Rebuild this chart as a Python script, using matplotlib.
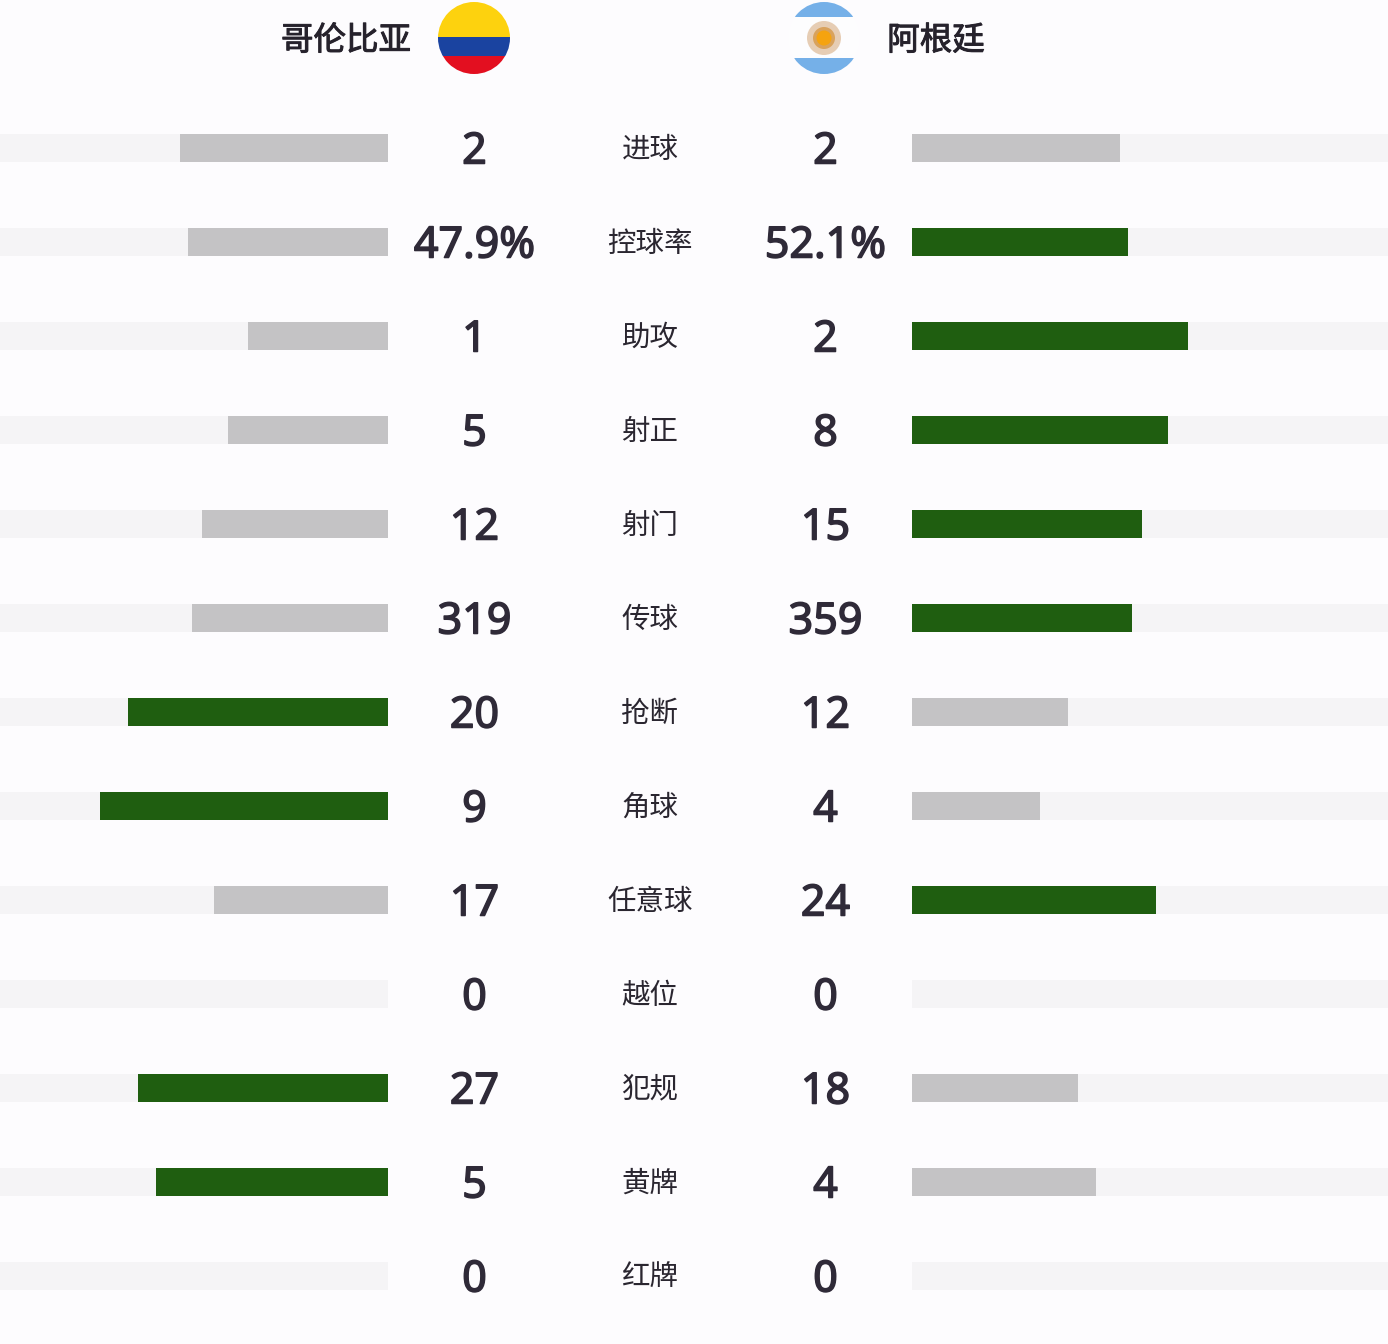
import matplotlib
matplotlib.use("Agg")
import numpy as np
import matplotlib.pyplot as plt
import matplotlib.patheffects as pe
from matplotlib.patches import Circle, Rectangle

plt.rcParams['font.family'] = ['Noto Sans CJK SC', 'DejaVu Sans']

team_left = "哥伦比亚"
team_right = "阿根廷"

stats = ["进球", "控球率", "助攻", "射正", "射门", "传球", "抢断", "角球", "任意球", "越位", "犯规", "黄牌", "红牌"]
left_labels = ["2", "47.9%", "1", "5", "12", "319", "20", "9", "17", "0", "27", "5", "0"]
right_labels = ["2", "52.1%", "2", "8", "15", "359", "12", "4", "24", "0", "18", "4", "0"]

# bar length as share of the track
left_share = [52, 50, 35, 40, 46.5, 49, 65, 72, 43.5, 0, 62.5, 58, 0]
right_share = [52, 54, 69, 64, 57.5, 55, 39, 32, 61, 0, 41.5, 46, 0]
left_green = [0, 0, 0, 0, 0, 0, 1, 1, 0, 0, 1, 1, 0]
right_green = [0, 1, 1, 1, 1, 1, 0, 0, 1, 0, 0, 0, 0]

BG = "#fdfcfe"
TRACK = "#f5f4f6"
GRAY = "#c4c3c5"
GREEN = "#1f5e10"
TEXT = "#2f2a38"

fig = plt.figure(figsize=(13.88, 13.44), dpi=100, facecolor=BG)
ax = fig.add_axes([0, 0, 1, 1])
ax.set_xlim(0, 1388)
ax.set_ylim(1344, 0)
ax.axis("off")

y = 148 + 94 * np.arange(len(stats))
scale = 4.0  # px per percent

# tracks
ax.barh(y, -388, left=388, height=28, color=TRACK)
ax.barh(y, 476, left=912, height=28, color=TRACK)

# bars
ax.barh(y, -scale * np.array(left_share), left=388, height=28,
        color=[GREEN if g else GRAY for g in left_green])
ax.barh(y, scale * np.array(right_share), left=912, height=28,
        color=[GREEN if g else GRAY for g in right_green])

# the Noto Sans here has no bold cut, so thicken the digits with a stroke
thick = [pe.withStroke(linewidth=1.1, foreground=TEXT)]
for i in range(len(stats)):
    ax.text(474.5, y[i] - 1, left_labels[i], ha="center", va="center_baseline", fontsize=31,
            color=TEXT, family=["Noto Sans", "DejaVu Sans"], path_effects=thick)
    ax.text(825.5, y[i] - 1, right_labels[i], ha="center", va="center_baseline", fontsize=31,
            color=TEXT, family=["Noto Sans", "DejaVu Sans"], path_effects=thick)
    ax.text(650, y[i] + 1.5, stats[i], ha="center", va="center", fontsize=20.5,
            fontweight="light", color="#2a2630")

# team names
name_fx = [pe.withStroke(linewidth=0.7, foreground="#26222c")]
ax.text(346, 41, team_left, ha="center", va="center", fontsize=23.4, color="#26222c", path_effects=name_fx)
ax.text(936, 41, team_right, ha="center", va="center", fontsize=23.4, color="#26222c", path_effects=name_fx)


def flag(cx, cy, r, stripes):
    clip = Circle((cx, cy), r, transform=ax.transData, facecolor="none", edgecolor="none")
    ax.add_patch(clip)
    for top, bottom, col in stripes:
        rect = Rectangle((cx - r, top), 2 * r, bottom - top, facecolor=col, edgecolor="none")
        ax.add_patch(rect)
        rect.set_clip_path(clip)


flag(474, 38, 36, [(2, 37, "#fdd20e"), (37, 56, "#1a43a0"), (56, 74, "#e30f20")])
flag(824, 38, 36, [(2, 17, "#75b0e8"), (17, 58, "#fdfdfe"), (58, 74, "#75b0e8")])
ax.add_patch(Circle((824, 38), 17, facecolor="#e6cdb4", edgecolor="none"))
ax.add_patch(Circle((824, 38), 11, facecolor="#d9a25c", edgecolor="none"))
ax.add_patch(Circle((824, 38), 7.5, facecolor="#f5a30f", edgecolor="none"))

fig.savefig("out.png", dpi=100, facecolor=BG)
